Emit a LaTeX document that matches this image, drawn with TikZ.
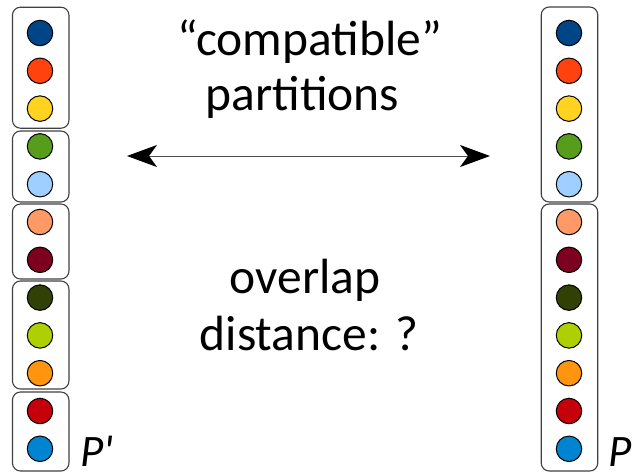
\documentclass[tikz,border=0pt]{standalone}
\usepackage{fontspec}
\setmainfont{Carlito}
\usetikzlibrary{arrows.meta}

\definecolor{cA}{HTML}{004586}
\definecolor{cB}{HTML}{FF420E}
\definecolor{cC}{HTML}{FFD320}
\definecolor{cD}{HTML}{579D1C}
\definecolor{cE}{HTML}{9FCFFF}
\definecolor{cF}{HTML}{FF9966}
\definecolor{cG}{HTML}{7E0021}
\definecolor{cH}{HTML}{314004}
\definecolor{cI}{HTML}{AECF00}
\definecolor{cJ}{HTML}{FF950E}
\definecolor{cK}{HTML}{C5000B}
\definecolor{cL}{HTML}{0084D1}
\definecolor{boxline}{HTML}{404040}

\begin{document}
\begin{tikzpicture}[x=1pt,y=-1pt,
  dot/.style={circle, draw=black, line width=1pt, minimum size=25.5pt, inner sep=0pt},
  grp/.style={draw=boxline, line width=1.1pt, rounded corners=8pt, minimum width=56.5pt, inner sep=0pt},
  bigtxt/.style={font=\fontsize{49.5}{56}\selectfont, anchor=base, inner sep=0pt},
  ptxt/.style={font=\fontsize{45}{50}\selectfont\itshape, anchor=base west, inner sep=0pt},
  link/.style={line width=1pt, draw=black!70,
    {Stealth[length=30pt,width=22pt,inset=8pt,color=black]}-{Stealth[length=30pt,width=22pt,inset=8pt,color=black]}}
]
\useasboundingbox (0,0) rectangle (633,472);

% groups of the left partition P'
\node[grp, minimum height=121pt] (L1) at (40.7,67.7) {};
\node[grp, minimum height=71pt]  (L2) at (40.7,166.5) {};
\node[grp, minimum height=75pt]  (L3) at (40.7,241.5) {};
\node[grp, minimum height=108pt] (L4) at (40.7,335) {};
\node[grp, minimum height=79pt]  (L5) at (40.7,431.5) {};

% groups of the right partition P
\node[grp, minimum height=195pt] (R1) at (569.5,104.5) {};
\node[grp, minimum height=267pt] (R2) at (569.5,337.5) {};

% elements, same order on both sides
\foreach \c [count=\i] in {cA,cB,cC,cD,cE,cF,cG,cH,cI,cJ,cK,cL} {
  \node[dot, fill=\c] (l\i) at (40,{33+37.8*(\i-1)}) {};
  \node[dot, fill=\c] (r\i) at (569,{33+37.8*(\i-1)}) {};
}

% labels
\node[bigtxt] (t1) at (310,55) {“compatible”};
\node[bigtxt] (t2) at (302.5,110) {partitions};
\node[bigtxt] (t3) at (305,293) {overlap};
\node[bigtxt] (t4) at (309,350) {distance: ?};

\node[ptxt] (pl) at (80,466) {P\textquotesingle};
\node[ptxt] (pr) at (608,466) {P};

% double-headed arrow between the partitions
\coordinate (aL) at (127,156);
\coordinate (aR) at (490,156);
\draw[link] (aL) -- (aR);
\end{tikzpicture}
\end{document}
